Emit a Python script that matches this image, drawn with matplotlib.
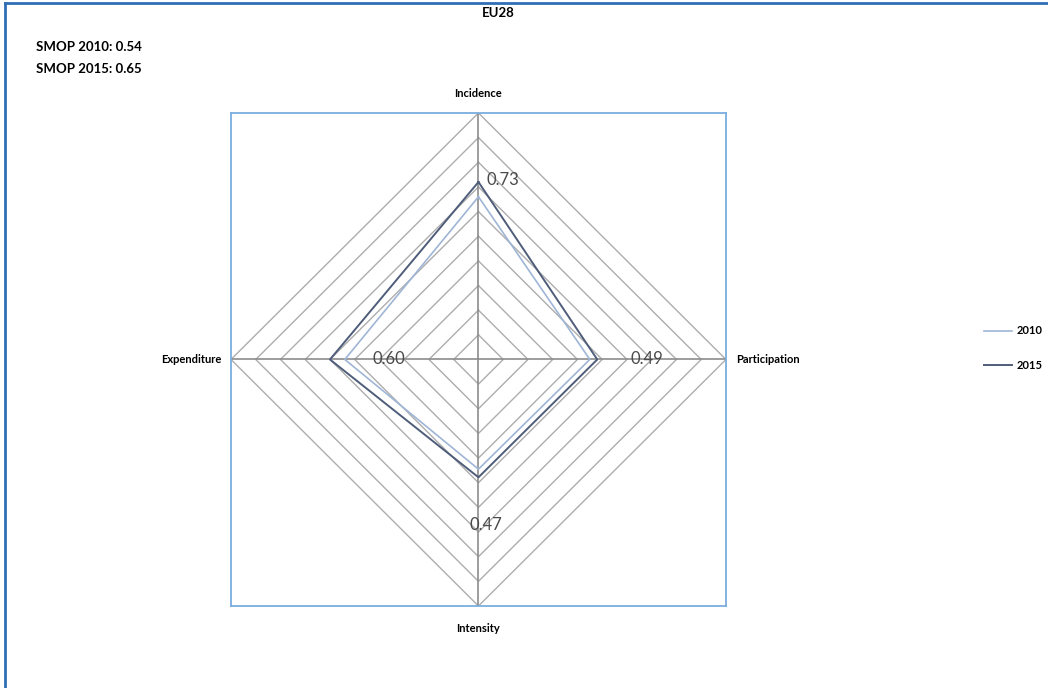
import numpy as np
import matplotlib
matplotlib.use("Agg")
import matplotlib.pyplot as plt
from matplotlib.lines import Line2D

plt.rcParams['font.family'] = ['Lato', 'DejaVu Sans']

# data
axes_names = ['Incidence', 'Participation', 'Intensity', 'Expenditure']
values_2010 = [0.66, 0.45, 0.445, 0.54]
values_2015 = [0.72, 0.48, 0.478, 0.60]
shown_labels = ['0.73', '0.49', '0.47', '0.60']
smop = {'2010': 0.54, '2015': 0.65}
rings = np.arange(0.1, 1.01, 0.1)

# clockwise from top, like the excel radar
angles = np.pi / 2 - np.arange(len(axes_names)) * 2 * np.pi / len(axes_names)


def to_xy(vals):
    v = np.append(vals, vals[0])
    a = np.append(angles, angles[0])
    return v * np.cos(a), v * np.sin(a)


fig = plt.figure(figsize=(10.48, 6.88), dpi=100)
ax = fig.add_axes([0.2204, 0.1192, 0.4723, 0.7166])
ax.set_xlim(-1, 1)
ax.set_ylim(-1, 1)
ax.set_xticks([])
ax.set_yticks([])
for s in ax.spines.values():
    s.set_color('#7aaee0')
    s.set_linewidth(1.3)

# diamond grid
for r in rings:
    gx, gy = to_xy(np.full(len(axes_names), r))
    ax.plot(gx, gy, color='#adadad', lw=1.0, zorder=1)
for a in angles:
    ax.plot([0, np.cos(a)], [0, np.sin(a)], color='#8c8c8c', lw=1.2, zorder=1)

x10, y10 = to_xy(values_2010)
x15, y15 = to_xy(values_2015)
ax.plot(x10, y10, color='#9fb5d6', lw=1.2, zorder=3, label='2010')
ax.plot(x15, y15, color='#4f5d7a', lw=1.4, zorder=4, label='2015')

# data labels (placed where excel put them)
label_pos = [(0.10, 0.73), (0.68, 0.0), (0.03, -0.67), (-0.36, 0.0)]
for (lx, ly), t in zip(label_pos, shown_labels):
    ax.text(lx, ly, t, ha='center', va='center', fontsize=12,
            color='#4a4a4a', zorder=5)

# category labels
ax.text(0, 1.08, axes_names[0], ha='center', va='center', fontsize=8, fontweight='bold')
ax.text(1.04, 0, axes_names[1], ha='left', va='center', fontsize=8, fontweight='bold')
ax.text(0, -1.09, axes_names[2], ha='center', va='center', fontsize=8, fontweight='bold')
ax.text(-1.04, 0, axes_names[3], ha='right', va='center', fontsize=8, fontweight='bold')
for t in ax.texts:
    t.set_clip_on(False)

fig.text(0.475, 0.981, 'EU28', ha='center', va='center', fontsize=9.5, fontweight='bold')
fig.text(0.034, 0.931, 'SMOP 2010: %.2f' % smop['2010'], ha='left', va='center',
         fontsize=9.5, fontweight='bold')
fig.text(0.034, 0.900, 'SMOP 2015: %.2f' % smop['2015'], ha='left', va='center',
         fontsize=9.5, fontweight='bold')

fig.legend(loc='center left', bbox_to_anchor=(0.929, 0.494), frameon=False,
           handlelength=2.6, handletextpad=0.35, labelspacing=2.1,
           prop={'weight': 'bold', 'size': 8})

# outer chart border (top and left visible)
fig.add_artist(Line2D([0.005, 0.005], [0.0, 0.995], color='#2f6fb5', lw=2.0))
fig.add_artist(Line2D([0.005, 1.0], [0.995, 0.995], color='#2f6fb5', lw=2.0))

fig.savefig('out.png', dpi=100)
